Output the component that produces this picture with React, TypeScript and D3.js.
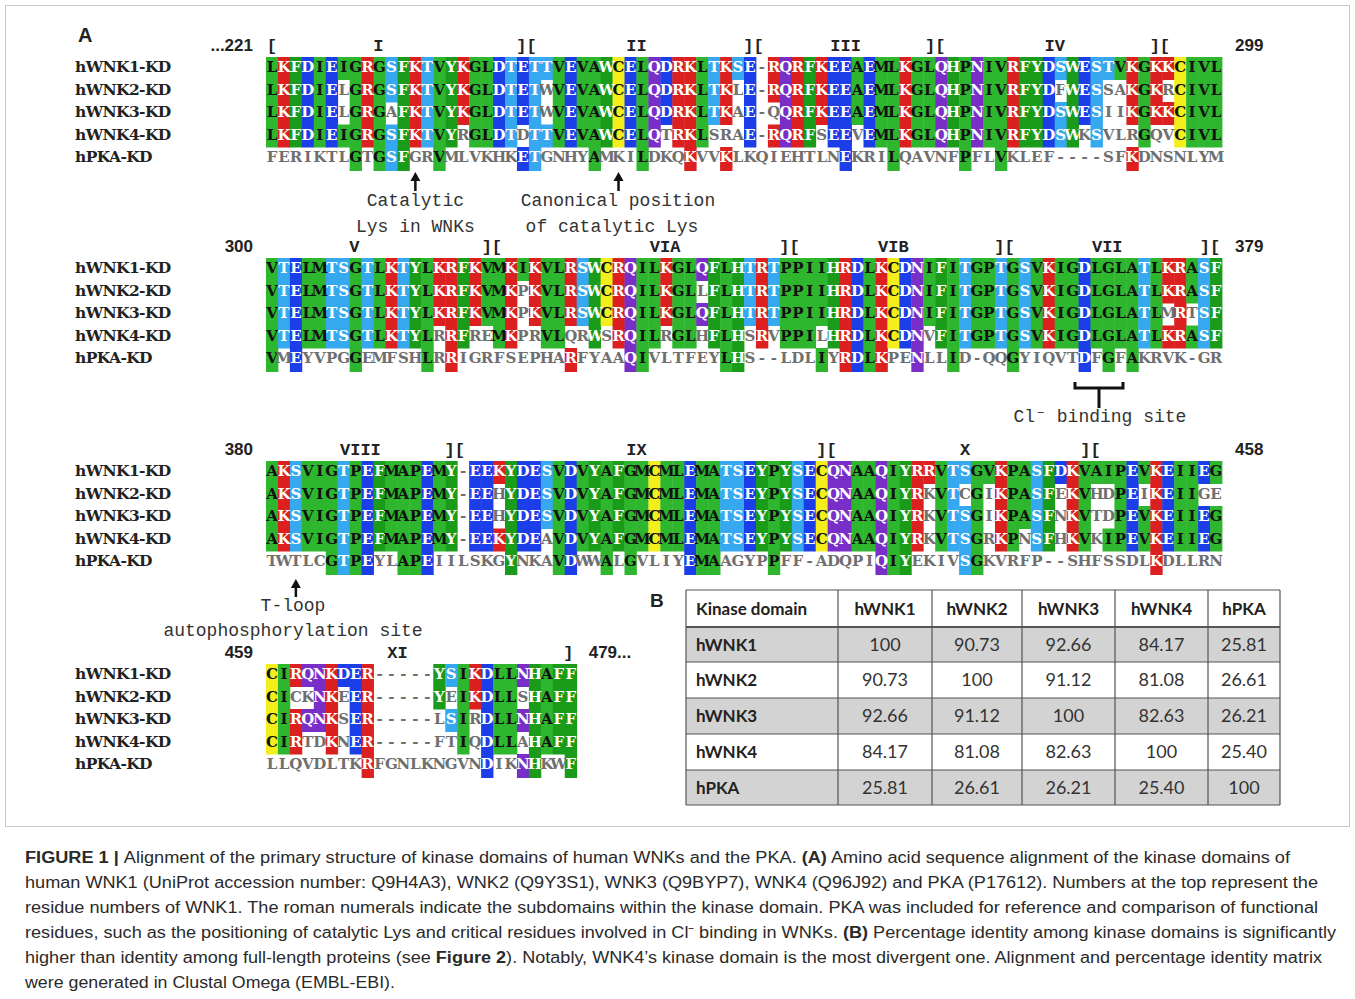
import React from "react";
import * as d3 from "d3";

// ---- data ----
const seqNames = ["hWNK1-KD", "hWNK2-KD", "hWNK3-KD", "hWNK4-KD", "hPKA-KD"];

const block1 = [
  "LKFDIEIGRGSFKTVYKGLDTETTVEVAWCELQDRKLTKSE-RQRFKEEAEMLKGLQHPNIVRFYDSWESTVKGKKCIVL",
  "LKFDIELGRGSFKTVYKGLDTETWVEVAWCELQDRKLTKLE-RQRFKEEAEMLKGLQHPNIVRFYDFWESSAKGKRCIVL",
  "LKFDIELGRGAFKTVYKGLDTETWVEVAWCELQDRKLTKAE-QQRFKEEAEMLKGLQHPNIVRFYDSWESIIKGKKCIVL",
  "LKFDIEIGRGSFKTVYRGLDTDTTVEVAWCELQTRKLSRAE-RQRFSEEVEMLKGLQHPNIVRFYDSWKSVLRGQVCIVL",
  "FERIKTLGTGSFGRVMLVKHKETGNHYAMKILDKQKVVKLKQIEHTLNEKRILQAVNFPFLVKLEF----SFKDNSNLYM",
];
const block2 = [
  "VTELMTSGTLKTYLKRFKVMKIKVLRSWCRQILKGLQFLHTRTPPIIHRDLKCDNIFITGPTGSVKIGDLGLATLKRASF",
  "VTELMTSGTLKTYLKRFKVMKPKVLRSWCRQILKGLLFLHTRTPPIIHRDLKCDNIFITGPTGSVKIGDLGLATLKRASF",
  "VTELMTSGTLKTYLKRFKVMKPKVLRSWCRQILKGLQFLHTRTPPIIHRDLKCDNIFITGPTGSVKIGDLGLATLMRTSF",
  "VTELMTSGTLKTYLRRFREMKPRVLQRWSRQILRGLHFLHSRVPPILHRDLKCDNVFITGPTGSVKIGDLGLATLKRASF",
  "VMEYVPGGEMFSHLRRIGRFSEPHARFYAAQIVLTFEYLHS--LDLIYRDLKPENLLID-QQGYIQVTDFGFAKRVK-GR",
];
const block3 = [
  "AKSVIGTPEFMAPEMY-EEKYDESVDVYAFGMCMLEMATSEYPYSECQNAAQIYRRVTSGVKPASFDKVAIPEVKEIIEG",
  "AKSVIGTPEFMAPEMY-EEHYDESVDVYAFGMCMLEMATSEYPYSECQNAAQIYRKVTCGIKPASFEKVHDPEIKEIIGE",
  "AKSVIGTPEFMAPEMY-EEHYDESVDVYAFGMCMLEMATSEYPYSECQNAAQIYRKVTSGIKPASFNKVTDPEVKEIIEG",
  "AKSVIGTPEFMAPEMY-EEKYDEAVDVYAFGMCMLEMATSEYPYSECQNAAQIYRKVTSGRKPNSFHKVKIPEVKEIIEG",
  "TWTLCGTPEYLAPEIILSKGYNKAVDWWALGVLIYEMAAGYPPFF-ADQPIQIYEKIVSGKVRFP--SHFSSDLKDLLRN",
];
const block4 = [
  "CIRQNKDER-----YSIKDLLNHAFF",
  "CICKNKEER-----YEIKDLLSHAFF",
  "CIRQNKSER-----LSIRDLLNHAFF",
  "CIRTDKNER-----FTIQDLLAHAFF",
  "LLQVDLTKRFGNLKNGVNDIKNHKWF",
];
const blocks = [block1, block2, block3, block4];

const startNums = ["...221", "300", "380", "459"];
const endNums = ["299", "379", "458", "479..."];

// subdomain markers: [column, text]
const marks1: [number, string][] = [[0.5, "["], [9.4, "I"], [21.8, "]["], [31, "II"], [40.8, "]["], [48.5, "III"], [56, "]["], [66, "IV"], [74.8, "]["]];
const marks2: [number, string][] = [[7.4, "V"], [18.9, "]["], [33.4, "VIA"], [43.8, "]["], [52.5, "VIB"], [61.8, "]["], [70.4, "VII"], [79, "]["]];
const marks3: [number, string][] = [[7.9, "VIII"], [15.8, "]["], [31, "IX"], [46.9, "]["], [58.5, "X"], [69, "]["]];
const marks4: [number, string][] = [[11, "XI"], [25.3, "]"]];
const blockMarks = [marks1, marks2, marks3, marks4];

const tableCols = ["hWNK1", "hWNK2", "hWNK3", "hWNK4", "hPKA"];
const identity = [
  [100, 90.73, 92.66, 84.17, 25.81],
  [90.73, 100, 91.12, 81.08, 26.61],
  [92.66, 91.12, 100, 82.63, 26.21],
  [84.17, 81.08, 82.63, 100, 25.4],
  [25.81, 26.61, 26.21, 25.4, 100],
];

// ---- styling ----
const RED = "#dc1f1f", BLUE = "#1c3ee8", CYAN = "#36a8f0", YEL = "#f4ef1c", PURP = "#7a2ec8";
const GREEN = "#2eb72e", GREEN2 = "#1a9c1a";
const bg = (r: string) => {
  if ("KR".includes(r)) return RED;
  if ("DE".includes(r)) return BLUE;
  if ("ST".includes(r)) return CYAN;
  if (r === "C") return YEL;
  if ("QN".includes(r)) return PURP;
  if ("FYHW".includes(r)) return GREEN2;
  return GREEN;
};
const darkText = (r: string) => "AILMVGPC".includes(r);

const blockTop = [45, 246, 449, 652];
const rowStep = 22.5;

const x = d3.scaleLinear().domain([0, 80]).range([266, 266 + 80 * 11.95]);
const colW = x(1) - x(0);

const mono = "'Courier New', 'Liberation Mono', monospace";
const resFont = "'DejaVu Serif', serif";

function Block({ rows, bi }: { rows: string[]; bi: number }) {
  const top = blockTop[bi];
  const y = d3.scaleLinear().domain([0, 1]).range([top + 21, top + 21 + rowStep]);
  const ref = rows[0];
  const n = ref.length;
  return (
    <g>
      <text x={253} y={top + 6} textAnchor="end" fontFamily="'Liberation Sans', Arial, sans-serif" fontWeight="bold" fontSize={17} fill="#222">{startNums[bi]}</text>
      <text x={bi === 3 ? x(n) + 12 : 1235} y={top + 6} fontFamily="'Liberation Sans', Arial, sans-serif" fontWeight="bold" fontSize={17} fill="#222">{endNums[bi]}</text>
      {blockMarks[bi].map(([c, t], i) => (
        <text key={i} x={x(c)} y={top + 6} textAnchor="middle" fontFamily={mono} fontWeight="bold" fontSize={17} fill="#222">{t}</text>
      ))}
      {rows.map((s, ri) => (
        <g key={ri}>
          <text x={75} y={y(ri) + 6} fontFamily={resFont} fontWeight="bold" fontSize={15.5} fill="#222" letterSpacing={-0.6}>{seqNames[ri]}</text>
          {s.split("").map((r, ci) => {
            const on = r !== "-" && r === ref[ci];
            return on ? (
              <rect key={"r" + ci} x={x(ci)} y={y(ri) - 9} width={colW + 0.4} height={ri === 4 ? 24 : rowStep + 0.5} fill={bg(r)} />
            ) : null;
          })}
          <text y={y(ri) + 6} textAnchor="middle" fontFamily={resFont} fontWeight="bold" fontSize={15}>
            {s.split("").map((r, ci) => {
              const on = r !== "-" && r === ref[ci];
              return (
                <tspan key={ci} x={x(ci + 0.5)} fill={on ? (darkText(r) ? "#111" : "#fff") : "#6f6f6f"}>{r}</tspan>
              );
            })}
          </text>
        </g>
      ))}
    </g>
  );
}

function Arrow({ cx, y1, y2 }: { cx: number; y1: number; y2: number }) {
  return (
    <g>
      <line x1={cx} x2={cx} y1={y1 + 6} y2={y2} stroke="#111" strokeWidth={2.5} />
      <path d={`M${cx - 5},${y1 + 9} L${cx},${y1} L${cx + 5},${y1 + 9} Z`} fill="#111" />
    </g>
  );
}

function Table() {
  const colEdges = [686, 838, 932, 1022, 1115, 1208, 1280];
  const rowEdges = [590, 627, 662, 698, 734, 770, 805];
  const font = "Lato, 'Open Sans', sans-serif";
  return (
    <g>
      {identity.map((_, i) =>
        i % 2 === 0 ? (
          <rect key={i} x={colEdges[0]} y={rowEdges[i + 1]} width={colEdges[6] - colEdges[0]} height={rowEdges[i + 2] - rowEdges[i + 1]} fill="#d3d3d3" />
        ) : null
      )}
      {colEdges.map((cx, i) => (
        <line key={"v" + i} x1={cx} x2={cx} y1={rowEdges[0]} y2={rowEdges[6]} stroke="#555" strokeWidth={1.2} />
      ))}
      {rowEdges.map((ry, i) => (
        <line key={"h" + i} x1={colEdges[0]} x2={colEdges[6]} y1={ry} y2={ry} stroke="#555" strokeWidth={i === 1 ? 2 : 1.2} />
      ))}
      <text x={colEdges[0] + 10} y={(rowEdges[0] + rowEdges[1]) / 2 + 6} fontFamily={font} fontWeight="bold" fontSize={17} fill="#222">Kinase domain</text>
      {tableCols.map((c, j) => (
        <text key={c} x={(colEdges[j + 1] + colEdges[j + 2]) / 2} y={(rowEdges[0] + rowEdges[1]) / 2 + 6} textAnchor="middle" fontFamily={font} fontWeight="bold" fontSize={17} fill="#222">{c}</text>
      ))}
      {identity.map((row, i) => (
        <g key={i}>
          <text x={colEdges[0] + 10} y={(rowEdges[i + 1] + rowEdges[i + 2]) / 2 + 6} fontFamily={font} fontWeight="bold" fontSize={17} fill="#222">{tableCols[i]}</text>
          {row.map((v, j) => (
            <text key={j} x={(colEdges[j + 1] + colEdges[j + 2]) / 2} y={(rowEdges[i + 1] + rowEdges[i + 2]) / 2 + 6} textAnchor="middle" fontFamily={font} fontSize={18} fill="#333">
              {v === 100 ? "100" : v.toFixed(2)}
            </text>
          ))}
        </g>
      ))}
    </g>
  );
}

const capLines: { parts: [string, boolean][]; w: number }[] = [
  { parts: [["FIGURE 1 | ", true], ["Alignment of the primary structure of kinase domains of human WNKs and the PKA. ", false], ["(A)", true], [" Amino acid sequence alignment of the kinase domains of", false]], w: 1265 },
  { parts: [["human WNK1 (UniProt accession number: Q9H4A3), WNK2 (Q9Y3S1), WNK3 (Q9BYP7), WNK4 (Q96J92) and PKA (P17612). Numbers at the top represent the", false]], w: 1293 },
  { parts: [["residue numbers of WNK1. The roman numerals indicate the subdomains within the kinase domain. PKA was included for reference and comparison of functional", false]], w: 1293 },
  { parts: [["residues, such as the positioning of catalytic Lys and critical residues involved in Cl\u207B binding in WNKs. ", false], ["(B)", true], [" Percentage identity among kinase domains is significantly", false]], w: 1311 },
  { parts: [["higher than identity among full-length proteins (see ", false], ["Figure 2", true], ["). Notably, WNK4\u2019s kinase domain is the most divergent one. Alignment and percentage identity matrix", false]], w: 1297 },
  { parts: [["were generated in Clustal Omega (EMBL-EBI).", false]], w: 370 },
];

export default function App() {
  return (
    <svg width={1355} height={999} style={{ display: "block", position: "absolute", left: 0, top: 0, background: "#fff" }}>
      <rect x={0} y={0} width={1355} height={999} fill="#fff" />
      <rect x={5.5} y={5.5} width={1344} height={821} fill="none" stroke="#c8c8c8" strokeWidth={1} />
      <text x={78} y={42} fontFamily="'Liberation Sans', Arial, sans-serif" fontWeight="bold" fontSize={20} fill="#222">A</text>
      {blocks.map((b, i) => <Block key={i} rows={b} bi={i} />)}

      <Arrow cx={x(12.5)} y1={172} y2={191} />
      <Arrow cx={x(29.5)} y1={172} y2={191} />
      <text x={x(12.5)} y={206} textAnchor="middle" fontFamily={mono} fontSize={18} fill="#333">Catalytic</text>
      <text x={x(12.5)} y={232} textAnchor="middle" fontFamily={mono} fontSize={18} fill="#333">Lys in WNKs</text>
      <text x={618} y={206} textAnchor="middle" fontFamily={mono} fontSize={18} fill="#333">Canonical position</text>
      <text x={612} y={232} textAnchor="middle" fontFamily={mono} fontSize={18} fill="#333">of catalytic Lys</text>

      <path d="M1075,382 L1075,388 L1123,388 L1123,382 M1099,388 L1099,408" fill="none" stroke="#111" strokeWidth={3} />
      <text x={1100} y={422} textAnchor="middle" fontFamily={mono} fontSize={18} fill="#333">Cl{"\u207B"} binding site</text>

      <Arrow cx={x(2.5)} y1={579} y2={597} />
      <text x={293} y={611} textAnchor="middle" fontFamily={mono} fontSize={18} fill="#333">T-loop</text>
      <text x={293} y={636} textAnchor="middle" fontFamily={mono} fontSize={18} fill="#333">autophosphorylation site</text>

      <text x={650} y={607} fontFamily="'Liberation Sans', Arial, sans-serif" fontWeight="bold" fontSize={19} fill="#222">B</text>
      <Table />

      {capLines.map((l, i) => (
        <text key={i} x={25} y={863 + i * 25} fontFamily="'Liberation Sans', Arial, sans-serif" fontSize={16} fill="#2a2a2a" textLength={l.w} lengthAdjust="spacingAndGlyphs">
          {l.parts.map(([t, b], j) => (
            <tspan key={j} fontWeight={b ? "bold" : "normal"}>{t}</tspan>
          ))}
        </text>
      ))}
    </svg>
  );
}
